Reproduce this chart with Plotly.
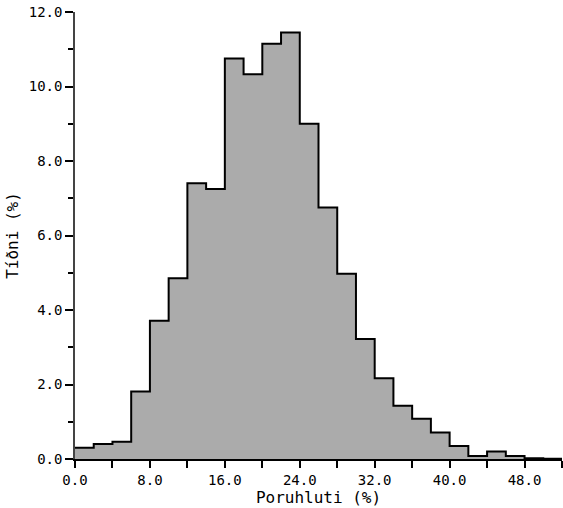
import plotly.graph_objects as go

# bin edges (Poruhluti %) and frequency per bin (Tíðni %)
bin_edges = [0, 2, 4, 6, 8, 10, 12, 14, 16, 18, 20, 22, 24, 26, 28, 30, 32, 34, 36, 38, 40, 42, 44, 46, 48, 50, 52]
freq = [0.30, 0.40, 0.46, 1.81, 3.71, 4.85, 7.40, 7.25, 10.75, 10.33, 11.15, 11.45, 9.00, 6.75, 4.97, 3.22,
        2.17, 1.43, 1.08, 0.71, 0.35, 0.08, 0.20, 0.08, 0.02, 0.01]

x_ticks = [0, 8, 16, 24, 32, 40, 48]
y_ticks = [0, 2, 4, 6, 8, 10, 12]

step_y = freq + [freq[-1]]

fig = go.Figure()
fig.add_trace(go.Scatter(
    x=bin_edges, y=step_y, mode="lines", line_shape="hv",
    line=dict(color="black", width=2),
    fill="tozeroy", fillcolor="#ababab",
    hoverinfo="skip",
))

fnt = dict(family="DejaVu Sans Mono", size=14, color="black")
title_fnt = dict(family="DejaVu Sans Mono", size=16, color="black")
fig.update_xaxes(
    range=[0, 52], tickvals=x_ticks, ticktext=[f"{v:.1f}" for v in x_ticks],
    ticks="outside", ticklen=7, tickwidth=1.5, tickcolor="black",
    minor=dict(tickvals=[4, 12, 20, 28, 36, 44, 52], ticks="outside", ticklen=7, tickwidth=1.5, tickcolor="black"),
    showline=True, linecolor="black", linewidth=1.5, showgrid=False, zeroline=False,
    title=dict(text="Poruhluti (%)", font=title_fnt, standoff=2),
    tickfont=fnt, automargin=True,
)
fig.update_yaxes(
    range=[0, 12], tickvals=y_ticks, ticktext=[f"{v:.1f}" for v in y_ticks],
    ticks="outside", ticklen=8, tickwidth=1.5, tickcolor="black",
    minor=dict(tickvals=[1, 3, 5, 7, 9, 11], ticks="outside", ticklen=5, tickwidth=1.5, tickcolor="black"),
    showline=True, linecolor="#444", linewidth=1.5, showgrid=False, zeroline=False,
    title=dict(text="Tíðni (%)", font=title_fnt, standoff=6),
    tickfont=fnt, automargin=True,
)
fig.update_layout(
    width=563, height=508,
    margin=dict(l=75, r=1, t=12, b=49),
    plot_bgcolor="white", paper_bgcolor="white",
    showlegend=False,
)
fig.write_html("out.html", config={"displayModeBar": False},
               post_script="document.body.style.margin='0';")
